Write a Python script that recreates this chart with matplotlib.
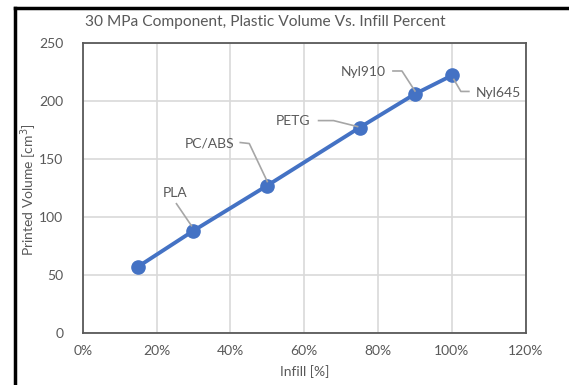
import matplotlib
matplotlib.use("Agg")
import matplotlib.pyplot as plt
from matplotlib.ticker import PercentFormatter

infill = [15, 30, 50, 75, 90, 100]
volume = [57, 88, 127, 177, 206, 222]
labels = ["", "PLA", "PC/ABS", "PETG", "Nyl910", "Nyl645"]

# label placement relative to each point, in pixels (x right, y down)
text_off = [None, (-18, -38), (-58, -42), (-67, -7), (-52, -22), (47, 18)]
leader_off = [None,
              [(-17, -27), (-2, -5)],
              [(-27, -43), (-18, -42), (0, -4)],
              [(-41, -7), (-26, -7), (-2, -1)],
              [(-22, -23), (-13, -23), (0, -3)],
              [(2, 4), (9, 16), (17, 16)]]

plt.rcParams['font.family'] = ['Lato', 'DejaVu Sans']
gray = '#595959'

fig = plt.figure(figsize=(5.69, 3.85), dpi=100)
ax = fig.add_axes([82.7 / 569, 1 - 332.7 / 385, (525.7 - 82.7) / 569, (332.7 - 43) / 385])

ax.plot(infill, volume, color='#4472C4', lw=2.8, marker='o', ms=9.5, zorder=3)

ax.set_xlim(0, 120)
ax.set_ylim(0, 250)
ax.set_xticks(range(0, 121, 20))
ax.set_yticks(range(0, 251, 50))
ax.xaxis.set_major_formatter(PercentFormatter(decimals=0))
ax.grid(True, color='#d9d9d9', lw=1.2)
ax.set_axisbelow(True)
for s in ax.spines.values():
    s.set_color(gray)
    s.set_linewidth(1.3)
ax.tick_params(length=0, colors=gray, labelsize=10, pad=9)
ax.tick_params(axis='y', pad=14)

ax.set_xlabel('Infill [%]', color=gray, fontsize=10, labelpad=6)
fig.text(29 / 569, 1 - 190 / 385, 'Printed Volume [cm$^3$]', color=gray, fontsize=10,
         rotation=90, ha='center', va='center')
fig.text(85 / 569, 1 - 22 / 385, '30 MPa Component, Plastic Volume Vs. Infill Percent',
         color=gray, fontsize=11.2, va='center', ha='left')

# data labels with leader lines
fig.canvas.draw()
for x, y, lab, toff, loff in zip(infill, volume, labels, text_off, leader_off):
    if not lab:
        continue
    px, py = ax.transData.transform((x, y))
    xs = [px + dx for dx, dy in loff]
    ys = [py - dy for dx, dy in loff]
    fig.add_artist(plt.Line2D(xs, ys, transform=None, color='#a6a6a6', lw=1.2))
    fig.text(px + toff[0], py - toff[1], lab, transform=None, color=gray,
             fontsize=10, ha='center', va='center')

# outer frame (left and top edges visible)
fig.add_artist(plt.Line2D([15 / 569, 15 / 569], [0, 1 - 8 / 385], color='black', lw=2.5))
fig.add_artist(plt.Line2D([15 / 569, 1], [1 - 8 / 385, 1 - 8 / 385], color='black', lw=2.5))

fig.savefig('out.png', dpi=100)
